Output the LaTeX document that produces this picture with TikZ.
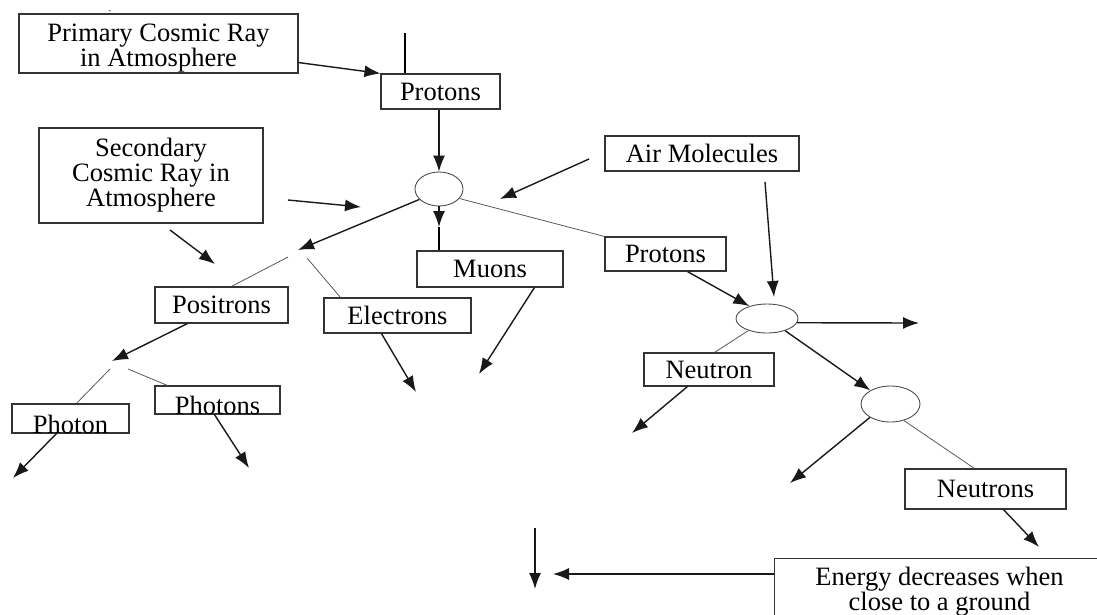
\documentclass[tikz,border=0pt]{standalone}
\usepackage{fontspec}
\setmainfont{Liberation Serif}
\usetikzlibrary{arrows.meta,calc,shapes.geometric}
\begin{document}
\begin{tikzpicture}[x=1pt,y=-1pt,
  txt/.style={font=\fontsize{26.5}{25}\selectfont,align=center,inner sep=0pt},
  box/.style={txt,draw=black!80,line width=1.1pt},
  ell/.style={ellipse,draw=black!70,line width=0.9pt,inner sep=0pt},
  arr/.style={line width=1.4pt,draw=black!90,-{Latex[length=16pt,width=12pt]}},
  thin/.style={line width=0.8pt,draw=black!65},
]
\useasboundingbox (0,0) rectangle (1097,614);
\clip (0,0) rectangle (1097,614);

% boxes
\node[box,minimum width=279pt,minimum height=59pt] (prim) at (158.5,43.5) {};
\node[txt] (primT) at (158.5,48.5) {Primary Cosmic Ray\\in Atmosphere};
\node[font=\fontsize{10}{10}\selectfont,inner sep=0pt,anchor=base] (tick) at (110,17) {\textasciigrave};
\node[box,minimum width=119pt,minimum height=35pt] (prot1) at (440.5,91.5) {Protons};
\node[box,minimum width=224pt,minimum height=95pt] (sec) at (151,175.5) {Secondary\\Cosmic Ray in\\Atmosphere};
\node[box,minimum width=194pt,minimum height=35pt] (air) at (702,153.5) {Air Molecules};
\node[box,minimum width=121pt,minimum height=34pt] (prot2) at (665.5,254) {Protons};
\node[box,minimum width=146pt,minimum height=36pt] (muons) at (490,269) {Muons};
\node[box,minimum width=133pt,minimum height=36pt] (posi) at (221.5,305) {Positrons};
\node[box,minimum width=147pt,minimum height=35pt] (elec) at (397.5,315.5) {Electrons};
\node[box,minimum width=125pt,minimum height=28pt] (photons) at (217.5,400) {};
\begin{scope}
  \clip (photons.south west) rectangle (photons.north east);
  \node[txt,anchor=base] (photonsT) at (217.5,414) {Photons};
\end{scope}
\node[box,minimum width=117pt,minimum height=29pt] (photon) at (70.5,418.5) {};
\begin{scope}
  \clip (photon.south west) rectangle (photon.north east);
  \node[txt,anchor=base] (photonT) at (70.5,433) {Photon};
\end{scope}
\node[box,minimum width=130pt,minimum height=33pt] (neutron) at (709,369.5) {Neutron};
\node[box,minimum width=161pt,minimum height=40pt] (neutrons) at (985.5,489) {Neutrons};
\node[box,minimum width=330pt,minimum height=66pt,anchor=north west] (energy) at (774,558) {Energy decreases when\\close to a ground};

% interaction points
\node[ell,minimum width=48pt,minimum height=34pt] (c1) at (439,189) {};
\node[ell,minimum width=62pt,minimum height=29pt] (c2) at (767,318.5) {};
\node[ell,minimum width=59pt,minimum height=36pt] (c3) at (890.5,404) {};

% free ends
\coordinate (top1) at (405,33);
\coordinate (s1a) at (288,200); \coordinate (s1b) at (361,207);
\coordinate (s2a) at (170,230); \coordinate (s2b) at (215,264);
\coordinate (split1) at (298,250);
\coordinate (ta) at (288,257); \coordinate (tb) at (307,258);
\coordinate (mu) at (439,227);
\coordinate (aa) at (589,159); \coordinate (ab) at (500,199);
\coordinate (da) at (765,182); \coordinate (db) at (774,297);
\coordinate (rgt) at (919,323);
\coordinate (nE) at (632,433);
\coordinate (c3E) at (790,483);
\coordinate (nsE) at (1039,547);
\coordinate (enE) at (553,574);
\coordinate (dwa) at (535,528); \coordinate (dwb) at (535,589);
\coordinate (split2) at (112,361);
\coordinate (t2a) at (110,369); \coordinate (t2b) at (128,369);
\coordinate (phE) at (13,478);
\coordinate (phsE) at (249,468);
\coordinate (elE) at (416,392);
\coordinate (muE) at (479,374);

% connectors
\draw[arr] ($(prim.south east)+(0,-11)$) -- (prot1.north west);
\draw[line width=1.1pt] (top1) -- (top1 |- prot1.north);
\draw[arr] (c1.north |- prot1.south) -- (c1.north);
\draw[arr] (s1a) -- (s1b);
\draw[arr] (s2a) -- (s2b);
\draw[arr] (c1.208) -- (split1);
\draw[thin] (ta) -- ($(posi.north west)+(77,0)$);
\draw[thin] (tb) -- ($(elec.north west)+(17,0)$);
\draw[arr] (c1.south) -- (mu);
\draw[line width=1.2pt] (mu) -- (mu |- muons.north);
\draw[thin] (c1.-25) -- (prot2.north west);
\draw[arr] (aa) -- (ab);
\draw[arr] (da) -- (db);
\draw[arr] ($(prot2.south west)+(83,0)$) -- (c2.145);
\draw[arr] (c2.-8) -- (rgt);
\draw[thin] (c2.213) -- ($(neutron.north west)+(71,0)$);
\draw[arr] (c2.-34) -- (c3.146);
\draw[arr] ($(neutron.south west)+(44,0)$) -- (nE);
\draw[arr] (c3.213) -- (c3E);
\draw[thin] (c3.-51) -- ($(neutrons.north west)+(70,0)$);
\draw[arr] ($(neutrons.south west)+(99,0)$) -- (nsE);
\draw[arr] ($(energy.north west)+(0,16)$) -- (enE);
\draw[arr] (dwa) -- (dwb);
\draw[arr] ($(posi.south west)+(33,0)$) -- (split2);
\draw[thin] (t2a) -- ($(photon.north west)+(65,0)$);
\draw[thin] (t2b) -- ($(photons.north west)+(13,0)$);
\draw[arr] ($(photon.south west)+(45,0)$) -- (phE);
\draw[arr] ($(photons.south west)+(60,0)$) -- (phsE);
\draw[arr] ($(elec.south west)+(58,0)$) -- (elE);
\draw[arr] ($(muons.south west)+(118,0)$) -- (muE);
\end{tikzpicture}
\end{document}
